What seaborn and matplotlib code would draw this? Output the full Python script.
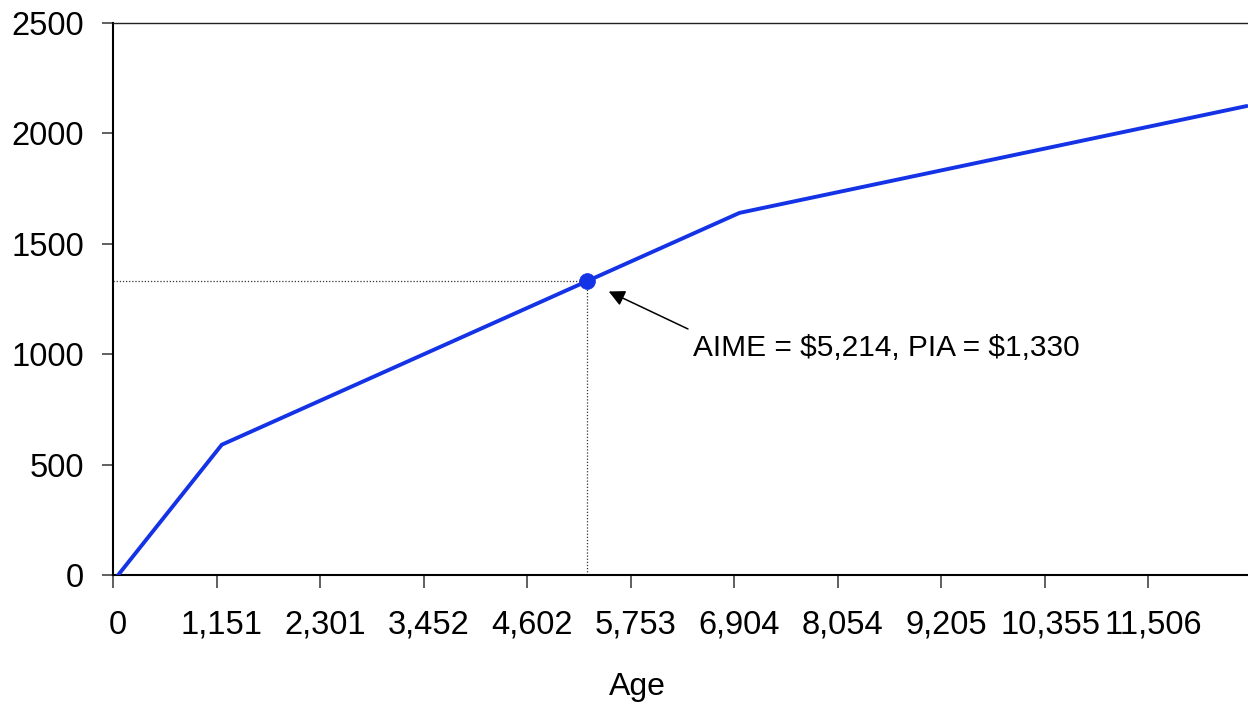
import numpy as np
import pandas as pd
import matplotlib
matplotlib.use("Agg")
import matplotlib.pyplot as plt
import seaborn as sns

# Benefit formula: monthly PIA as a function of AIME (piecewise linear)
aime_points = [0, 1151, 6904, 12541]
pia_points = [0, 590, 1640, 2124]

# Highlighted worker
marker_aime = 5214
marker_pia = 1330
marker_label = r"AIME = \$5,214, PIA = \$1,330"

x_tick_labels = ["0", "1,151", "2,301", "3,452", "4,602", "5,753",
                 "6,904", "8,054", "9,205", "10,355", "11,506"]
y_ticks = [0, 500, 1000, 1500, 2000, 2500]
x_axis_title = "Age"

sns.set_theme(style="white")
plt.rcParams["font.family"] = ["Liberation Sans", "DejaVu Sans"]

W, H = 1248, 704
fig = plt.figure(figsize=(W / 100, H / 100), dpi=100)
# plot area: left 113px, right 1252px (runs just past the canvas), top 23px, bottom 575px
ax = fig.add_axes([113 / W, 1 - 575 / H, (1252 - 113) / W, (575 - 23) / H])

line_color = "#1432e6"
df = pd.DataFrame({"AIME": aime_points, "PIA": pia_points})
sns.lineplot(data=df, x="AIME", y="PIA", ax=ax, color=line_color,
             linewidth=2.8, sort=False, zorder=3)

# category-style axis: labels centred on categories, tick marks on boundaries
tick_vals = np.array([int(s.replace(",", "")) for s in x_tick_labels], dtype=float)
label_step = np.mean(np.diff(tick_vals))
half_cat = label_step / 20.0
x_left = -half_cat
x_right = label_step * len(tick_vals) - half_cat
ax.set_xlim(x_left, x_right)
ax.set_ylim(y_ticks[0], y_ticks[-1])

# reference guides to the highlighted point
guide = dict(color="#333333", linewidth=0.9, linestyle=(0, (1, 1.5)), zorder=2)
ax.plot([x_left, marker_aime], [marker_pia, marker_pia], **guide)
ax.plot([marker_aime, marker_aime], [0, marker_pia], **guide)

sns.scatterplot(x=[marker_aime], y=[marker_pia], ax=ax, color=line_color,
                s=130, edgecolor=line_color, linewidth=0.5, zorder=4)

# annotation
ax.annotate("", xy=(marker_aime, marker_pia), xycoords="data",
            xytext=(0.5048, 0.4457), textcoords="axes fraction",
            arrowprops=dict(arrowstyle="-|>", color="black", lw=1.1,
                            mutation_scale=24, shrinkA=0, shrinkB=17))
ax.text(0.5092, 0.3967, marker_label, transform=ax.transAxes,
        fontsize=21.5, ha="left", va="baseline", color="black")

# x axis ticks
ax.set_xticks(tick_vals)
ax.set_xticklabels(x_tick_labels)
boundaries = np.arange(len(tick_vals) + 1) * label_step - half_cat
ax.set_xticks(boundaries, minor=True)
ax.tick_params(axis="x", which="major", length=0, pad=25, labelsize=23.5,
               labelcolor="black")
ax.tick_params(axis="x", which="minor", length=9, width=1.2, color="#444444",
               direction="out", bottom=True)

# y axis ticks
ax.set_yticks(y_ticks)
ax.set_yticklabels([str(v) for v in y_ticks])
ax.tick_params(axis="y", which="major", length=8, width=1.2, color="#444444",
               direction="out", left=True, pad=13, labelsize=23.5,
               labelcolor="black")

ax.set_xlabel(x_axis_title, fontsize=23, color="black")
ax.xaxis.set_label_coords(0.4605, -0.175)
ax.set_ylabel("")

for side in ["left", "bottom"]:
    ax.spines[side].set_color("black")
    ax.spines[side].set_linewidth(1.5)
ax.spines["top"].set_color("#222222")
ax.spines["top"].set_linewidth(1.0)
ax.spines["right"].set_visible(False)
ax.grid(False)
ax.set_facecolor("white")

fig.savefig("out.png", dpi=100, facecolor="white")
